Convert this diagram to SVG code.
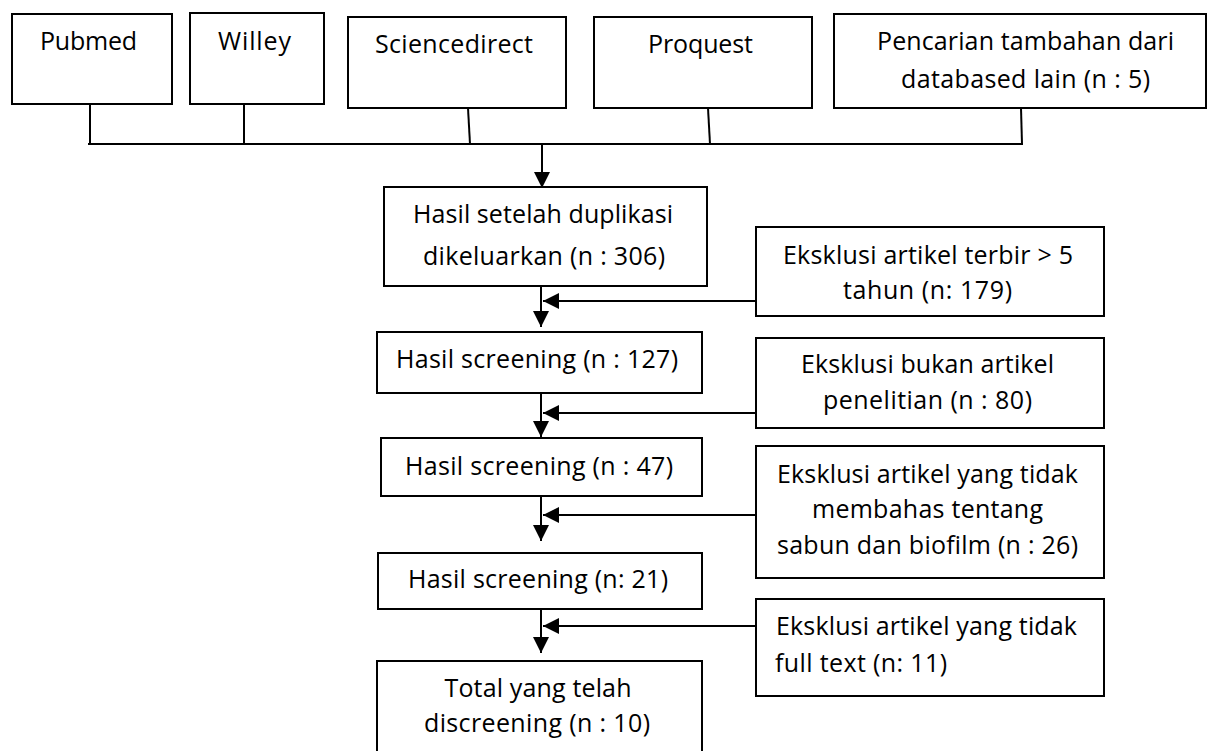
<svg xmlns="http://www.w3.org/2000/svg" width="1208" height="751" viewBox="0 0 1208 751">
<style>
  .box { fill: #ffffff; stroke: #000000; stroke-width: 2; }
  .ln { fill: none; stroke: #000000; stroke-width: 2; }
  text { font-family: "Open Sans", "Noto Sans", "Liberation Sans", sans-serif; font-size: 25px; fill: #000000; }
  .c { text-anchor: middle; }
</style>
<defs>
  <marker id="arr" markerUnits="userSpaceOnUse" markerWidth="16" markerHeight="16" viewBox="0 0 14 14" refX="14" refY="7" orient="auto">
    <path d="M0,0 L14,7 L0,14 Z" fill="#000000"/>
  </marker>
</defs>
<rect width="1208" height="751" fill="#ffffff"/>

<g id="connectors">
  <line class="ln" x1="90" y1="104" x2="90" y2="144"/>
  <line class="ln" x1="244" y1="104" x2="244" y2="143"/>
  <line class="ln" x1="468" y1="108" x2="470" y2="144"/>
  <line class="ln" x1="708" y1="108" x2="710" y2="144"/>
  <line class="ln" x1="1021" y1="108" x2="1022" y2="144"/>
  <line class="ln" x1="88" y1="144" x2="1023" y2="144"/>
  <line class="ln" x1="542" y1="144" x2="542" y2="188" marker-end="url(#arr)"/>
  <line class="ln" x1="541" y1="286" x2="541" y2="327" marker-end="url(#arr)"/>
  <line class="ln" x1="756" y1="301" x2="543" y2="301" marker-end="url(#arr)"/>
  <line class="ln" x1="541" y1="393" x2="541" y2="437" marker-end="url(#arr)"/>
  <line class="ln" x1="756" y1="413" x2="543" y2="413" marker-end="url(#arr)"/>
  <line class="ln" x1="541" y1="496" x2="541" y2="541" marker-end="url(#arr)"/>
  <line class="ln" x1="756" y1="515" x2="543" y2="515" marker-end="url(#arr)"/>
  <line class="ln" x1="541" y1="609" x2="541" y2="653" marker-end="url(#arr)"/>
  <line class="ln" x1="756" y1="626" x2="543" y2="626" marker-end="url(#arr)"/>
</g>

<g id="pubmed">
  <rect class="box" x="12" y="14" width="160" height="90"/>
  <text class="c" x="88.5" y="50" textLength="97">Pubmed</text>
</g>
<g id="willey">
  <rect class="box" x="190" y="13" width="134" height="91"/>
  <text class="c" x="254.5" y="50" textLength="73">Willey</text>
</g>
<g id="sciencedirect">
  <rect class="box" x="348" y="17" width="218" height="91"/>
  <text class="c" x="454" y="53" textLength="158">Sciencedirect</text>
</g>
<g id="proquest">
  <rect class="box" x="594" y="17" width="218" height="91"/>
  <text class="c" x="700.5" y="53" textLength="105">Proquest</text>
</g>
<g id="pencarian">
  <rect class="box" x="834" y="14" width="372" height="94"/>
  <text class="c" x="1025.5" y="50" textLength="297">Pencarian tambahan dari</text>
  <text class="c" x="1025.5" y="88" textLength="249">databased lain (n : 5)</text>
</g>

<g id="hasil-duplikasi">
  <rect class="box" x="384" y="187" width="323" height="99"/>
  <text class="c" x="543" y="223" textLength="260">Hasil setelah duplikasi</text>
  <text class="c" x="544" y="265" textLength="242">dikeluarkan (n : 306)</text>
</g>
<g id="hasil-127">
  <rect class="box" x="377" y="332" width="325" height="61"/>
  <text class="c" x="537" y="368" textLength="282">Hasil screening (n : 127)</text>
</g>
<g id="hasil-47">
  <rect class="box" x="381" y="438" width="321" height="58"/>
  <text class="c" x="539" y="475" textLength="268">Hasil screening (n : 47)</text>
</g>
<g id="hasil-21">
  <rect class="box" x="378" y="553" width="324" height="56"/>
  <text class="c" x="538" y="588" textLength="260">Hasil screening (n: 21)</text>
</g>
<g id="total">
  <rect class="box" x="377" y="661" width="325" height="100"/>
  <text class="c" x="538" y="697" textLength="187">Total yang telah</text>
  <text class="c" x="537" y="732" textLength="226">discreening (n : 10)</text>
</g>

<g id="eksklusi-5tahun">
  <rect class="box" x="756" y="227" width="348" height="89"/>
  <text class="c" x="928" y="264" textLength="290">Eksklusi artikel terbir &gt; 5</text>
  <text class="c" x="927.5" y="299" textLength="169">tahun (n: 179)</text>
</g>
<g id="eksklusi-penelitian">
  <rect class="box" x="756" y="338" width="348" height="90"/>
  <text class="c" x="927.5" y="373" textLength="253">Eksklusi bukan artikel</text>
  <text class="c" x="927.5" y="409" textLength="209">penelitian (n : 80)</text>
</g>
<g id="eksklusi-biofilm">
  <rect class="box" x="756" y="446" width="348" height="132"/>
  <text class="c" x="927.5" y="483" textLength="301">Eksklusi artikel yang tidak</text>
  <text class="c" x="927.5" y="518" textLength="231">membahas tentang</text>
  <text class="c" x="927.5" y="554" textLength="301">sabun dan biofilm (n : 26)</text>
</g>
<g id="eksklusi-fulltext">
  <rect class="box" x="756" y="599" width="348" height="97"/>
  <text x="776" y="635" textLength="301">Eksklusi artikel yang tidak</text>
  <text x="775" y="672" textLength="172">full text (n: 11)</text>
</g>
</svg>
